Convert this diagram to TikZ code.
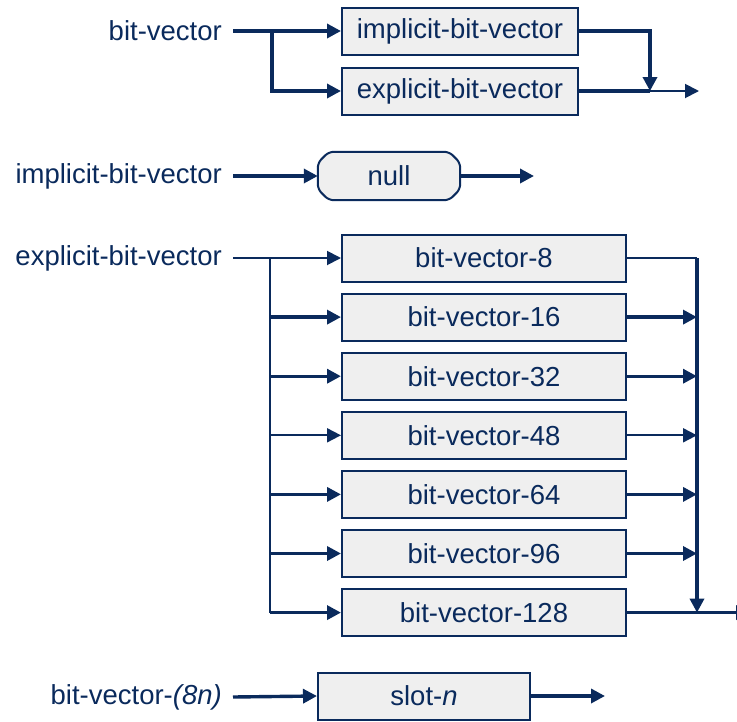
\documentclass[tikz,border=0pt]{standalone}
\usepackage{fontspec}
\setmainfont{Liberation Sans}
\usetikzlibrary{arrows.meta}
\definecolor{navy}{RGB}{10,42,92}
\definecolor{boxfill}{RGB}{239,239,239}
\begin{document}
\begin{tikzpicture}[x=1pt,y=-1pt,
  font=\fontsize{27.5}{32}\selectfont, text=navy,
  box/.style={draw=navy, line width=2pt, fill=boxfill, inner sep=0pt, minimum height=47pt},
  lbl/.style={anchor=east, inner sep=0pt},
  thk/.style={draw=navy, line width=3.4pt},
  thn/.style={draw=navy, line width=1.9pt},
  tip/.style={-{Triangle[length=14pt,width=14pt]}},
]
\useasboundingbox (0,0) rectangle (737,721);

% ---- bit-vector ----
\node[lbl] (bv) at (222,31) {bit-vector};
\node[box, minimum width=236pt] (impl) at (460,31) {implicit-bit-vector};
\node[box, minimum width=236pt] (expl) at (460,91) {explicit-bit-vector};
\coordinate (j1) at (272,31);
\coordinate (jr) at (650,91);
\coordinate (topend) at (699,91);
\draw[thk,tip] (bv.east) ++(11,0) -- (impl.west);
\draw[thk,tip] (j1) |- (expl.west);
\draw[thk,tip] (impl.east) -| (jr);
\draw[thk] (expl.east) -- (jr);
\draw[thn,tip] (jr) -- (topend);

% ---- implicit-bit-vector ----
\node[lbl] (il) at (222,176) {implicit-bit-vector};
\node[inner sep=0pt, minimum width=142pt, minimum height=48pt] (null) at (389,176) {};
\draw[draw=navy, line width=2pt, fill=boxfill, rounded corners=5pt]
  ([xshift=11pt]null.north west) -- ([xshift=-11pt]null.north east)
  -- ([yshift=-11pt]null.north east) -- ([yshift=11pt]null.south east)
  -- ([xshift=-11pt]null.south east) -- ([xshift=11pt]null.south west)
  -- ([yshift=11pt]null.south west) -- ([yshift=-11pt]null.north west) -- cycle;
\node at (null) {null};
\coordinate (nullend) at (534,176);
\draw[thk,tip] (il.east) ++(11,0) -- (null.west);
\draw[thk,tip] (null.east) -- (nullend);

% ---- explicit-bit-vector ----
\node[lbl] (el) at (222,258) {explicit-bit-vector};
\foreach \n/\i in {8/0,16/1,32/2,48/3,64/4,96/5,128/6}{
  \node[box, minimum width=284pt] (b\n) at (484,{258+59.1*\i}) {bit-vector-\n};
}
\coordinate (lv) at (270,258);
\coordinate (rv) at (697,258);
\coordinate (botend) at (750,613);
\draw[thn,tip] (el.east) ++(11,0) -- (b8.west);
\draw[thn] (lv) -- (lv |- b128.west);
\foreach \n in {16,32,64,96,128}{
  \draw[thk,tip] (lv |- b\n.west) -- (b\n.west);
}
\draw[thn,tip] (lv |- b48.west) -- (b48.west);
\draw[thn] (b8.east) -- (rv);
\draw[thk,tip] (rv) -- (rv |- b128.east);
\foreach \n in {16,32,64,96}{
  \draw[thk,tip] (b\n.east) -- (rv |- b\n.east);
}
\draw[thn,tip] (b48.east) -- (rv |- b48.east);
\draw[thk,tip] (b128.east) -- (botend |- b128.east);

% ---- bit-vector-(8n) ----
\node[lbl] (bn) at (222,697) {bit-vector-\textit{(8n)}};
\node[box, minimum width=212pt] (slot) at (424,696) {slot-\textit{n}};
\coordinate (slotend) at (605,696);
\draw[thk,tip] (bn.east) ++(11,0) -- (slot.west);
\draw[thk,tip] (slot.east) -- (slotend);
\end{tikzpicture}
\end{document}
